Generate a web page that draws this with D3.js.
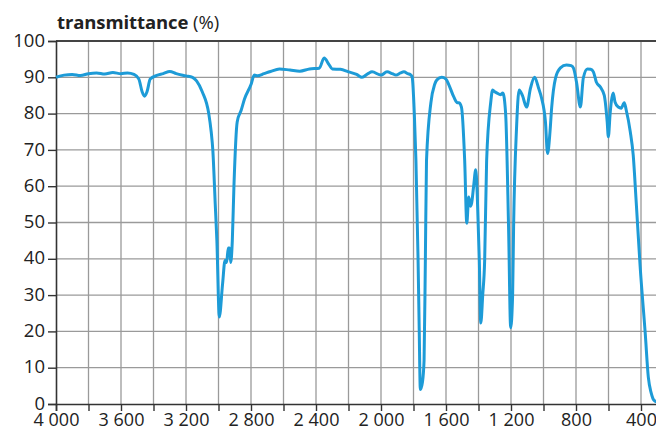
<!DOCTYPE html>
<html>
<head>
<meta charset="utf-8">
<script src="https://cdn.jsdelivr.net/npm/d3@7"></script>
<style>
  html, body { margin: 0; padding: 0; background: #fff; }
  svg { display: block; }
  text { font-family: "Open Sans", "DejaVu Sans", sans-serif; fill: #222; }
</style>
</head>
<body>
<svg id="chart" width="656" height="432"></svg>
<script>
// wavenumber (cm^-1) and transmittance (%)
const wavenumber = [4000,3950,3900,3850,3800,3750,3700,3650,3600,3560,3520,3490,3470,3455,3440,3420,3380,3340,3300,3260,3200,3160,3135,3100,3060,3045,3035,3020,3010,2995,2975,2960,2950,2940,2932,2925,2915,2905,2885,2860,2840,2800,2780,2760,2720,2680,2625,2560,2500,2440,2380,2350,2320,2300,2250,2200,2150,2117,2080,2055,2000,1963,1930,1908,1880,1859,1835,1816,1808,1795,1785,1772,1765,1758,1745,1735,1727,1720,1693,1670,1656,1626,1600,1583,1552,1530,1521,1505,1485,1472,1460,1450,1442,1430,1417,1408,1395,1386,1374,1362,1350,1325,1313,1300,1288,1264,1250,1233,1215,1202,1190,1184,1166,1150,1130,1104,1080,1055,1030,1012,988,975,960,950,926,896,859,830,816,797,773,755,730,710,693,675,650,626,608,601,590,583,571,560,540,522,503,491,466,448,430,405,374,355,337,320,300];
const transmittance = [90,90.6,90.8,90.5,91,91.2,90.9,91.3,91,91.2,90.8,89.5,86,84.8,86,89.5,90.5,91,91.6,91,90.4,90,89,86,80,75,70,55,45,24,33,39.5,39,43,43,39,45,60,77.7,81,84,88,90.6,90.4,91,91.6,92.3,92,91.7,92.3,92.5,95.3,93.5,92.3,92.2,91.5,90.8,90,91,91.5,90.6,91.5,91,90.6,91.2,91.5,91,90.6,90,80,67,40,21,4,6,12,39.7,67,83,88,89.3,90,89.5,88,84.6,83,83,81.8,67,49.8,57,54.5,55.4,60,64.5,58,39.7,22.3,30,39.7,67,83,86.5,86,85.7,85.2,85.7,80,48.8,21,30,48.8,76,86.5,85,81.8,87,90,87,84.3,77.7,69,75,81.5,89.8,92.6,93.4,93.2,92.6,88.7,81.8,89.8,92.3,92.2,91.5,88.7,87.3,85,77.7,73.6,80,83.2,85.7,83.2,81.8,81.5,83,81,75,68.6,56,37.7,19.5,7.4,3,1,0.5];
const xTicks = [4000,3800,3600,3400,3200,3000,2800,2600,2400,2200,2000,1800,1600,1400,1200,1000,800,600,400];
const xLabels = [4000,3600,3200,2800,2400,2000,1600,1200,800,400];
const yTicks = [0,10,20,30,40,50,60,70,80,90,100];

const svg = d3.select("#chart");
const x = d3.scaleLinear().domain([4000, 300]).range([56, 657.25]);
const y = d3.scaleLinear().domain([0, 100]).range([404, 41]);
const loc = d3.formatLocale({decimal: ".", thousands: " ", grouping: [3], currency: ["", ""]});
const fmt = loc.format(",");

// grid
const grid = svg.append("g");
grid.selectAll("line.v").data(xTicks.filter(d => d !== 4000)).join("line")
  .attr("x1", d => x(d)).attr("x2", d => x(d))
  .attr("y1", y(100)).attr("y2", y(0))
  .attr("stroke", "#9a9a9a").attr("stroke-width", 1.3);
grid.selectAll("line.h").data(yTicks.filter(d => d > 0 && d < 100)).join("line")
  .attr("x1", x(4000)).attr("x2", 656)
  .attr("y1", d => y(d)).attr("y2", d => y(d))
  .attr("stroke", "#9a9a9a").attr("stroke-width", 1.3);

// top border
svg.append("line").attr("x1", x(4000)).attr("x2", 656)
  .attr("y1", y(100)).attr("y2", y(100))
  .attr("stroke", "#444").attr("stroke-width", 2);

// y axis
const yAxis = d3.axisLeft(y).tickValues(yTicks).tickSize(8).tickPadding(3).tickFormat(d => d);
const gy = svg.append("g").attr("transform", `translate(${x(4000)},0)`).call(yAxis);
gy.select(".domain").attr("stroke", "#333").attr("stroke-width", 1.6);
gy.selectAll(".tick line").attr("stroke", "#333").attr("stroke-width", 1.4);
gy.selectAll(".tick text").attr("font-size", 18.5).attr("font-family", "'Open Sans', sans-serif")
  .attr("fill", "#222").attr("dy", "0.28em");

// x axis
const xAxis = d3.axisBottom(x).tickValues(xTicks).tickSize(7).tickPadding(4)
  .tickFormat(d => xLabels.includes(d) ? fmt(d) : "");
const gx = svg.append("g").attr("transform", `translate(0,${y(0)})`).call(xAxis);
gx.select(".domain").attr("stroke", "#333").attr("stroke-width", 1.6);
gx.selectAll(".tick line").attr("stroke", "#333").attr("stroke-width", 1.4);
gx.selectAll(".tick text").attr("font-size", 18).attr("font-family", "'Open Sans', sans-serif")
  .attr("fill", "#222").attr("dy", "0.62em");

// curve
const line = d3.line().x((d, i) => x(wavenumber[i])).y(d => y(d)).curve(d3.curveMonotoneX);
svg.append("path").datum(transmittance)
  .attr("d", line)
  .attr("fill", "none")
  .attr("stroke", "#1d9bd7")
  .attr("stroke-width", 3)
  .attr("stroke-linejoin", "round");

// title
const title = svg.append("text").attr("x", 57).attr("y", 29).attr("font-size", 18.5);
title.append("tspan").attr("font-weight", "bold").attr("letter-spacing", -0.1).text("transmittance");
title.append("tspan").attr("font-weight", "normal").text(" (%)");
</script>
</body>
</html>
